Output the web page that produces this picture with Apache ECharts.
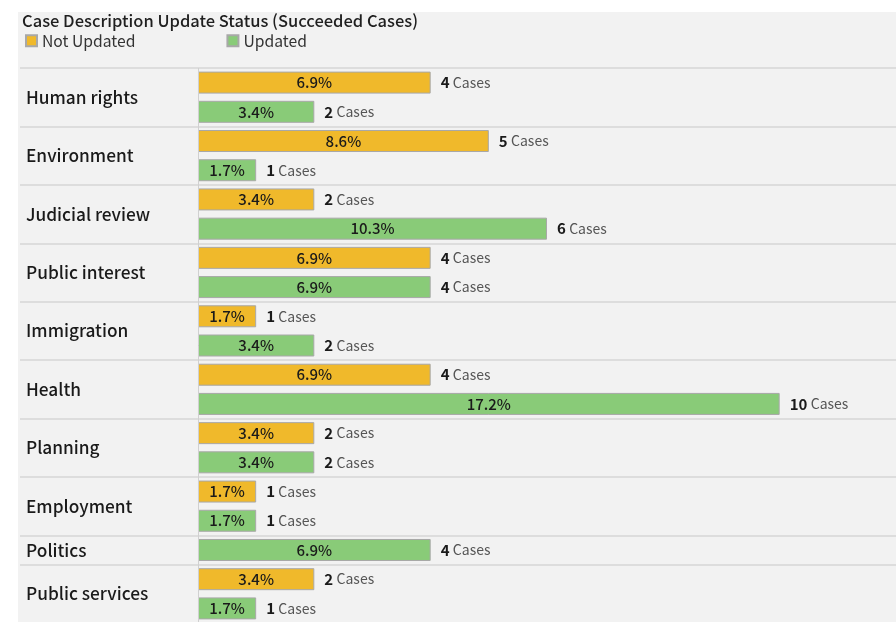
<!DOCTYPE html>
<html>
<head>
<meta charset="utf-8">
<script src="https://cdn.jsdelivr.net/npm/echarts@6/dist/echarts.min.js"></script>
<style>
  html, body { margin: 0; padding: 0; background: #ffffff; }
  #chart {
    position: absolute;
    left: 18px;
    top: 12px;
    width: 878px;
    height: 610px;
    background: #f2f2f2;
  }
</style>
</head>
<body>
<div id="chart"></div>
<script>
// categories and values (cases)
const categories = ['Human rights', 'Environment', 'Judicial review', 'Public interest', 'Immigration',
  'Health', 'Planning', 'Employment', 'Politics', 'Public services']
const notUpdated = [4, 5, 2, 4, 1, 4, 2, 1, null, 2]
const updated = [2, 1, 6, 4, 2, 10, 2, 1, 4, 1]
const notUpdatedPct = ['6.9%', '8.6%', '3.4%', '6.9%', '1.7%', '6.9%', '3.4%', '1.7%', null, '3.4%']
const updatedPct = ['3.4%', '1.7%', '10.3%', '6.9%', '3.4%', '17.2%', '3.4%', '1.7%', '6.9%', '1.7%']

const ORANGE = '#f0b92b'
const GREEN = '#89cb78'
const FONT = '"Noto Sans CJK JP", "Noto Sans", sans-serif'

// one axis slot per bar
const slots = []
const groupStarts = new Set()
categories.forEach((cat, i) => {
  groupStarts.add(slots.length)
  const size = (notUpdated[i] != null ? 1 : 0) + (updated[i] != null ? 1 : 0)
  let first = true
  if (notUpdated[i] != null) {
    slots.push({ key: cat + '|n', cat, type: 'n', value: notUpdated[i], pct: notUpdatedPct[i], first, size })
    first = false
  }
  if (updated[i] != null) {
    slots.push({ key: cat + '|u', cat, type: 'u', value: updated[i], pct: updatedPct[i], first, size })
  }
})

const pctLabel = {
  show: true,
  position: 'inside',
  fontFamily: FONT,
  fontSize: 15,
  fontWeight: 500,
  color: '#1a1a1a',
  formatter: p => slots[p.dataIndex].pct
}

const barStyle = color => ({ color, borderColor: '#a8a8a8', borderWidth: 1 })

const chart = echarts.init(document.getElementById('chart'))
chart.setOption({
  animation: false,
  title: {
    text: 'Case Description Update Status (Succeeded Cases)',
    left: 4,
    top: 0,
    padding: 0,
    textStyle: { fontFamily: FONT, fontSize: 16.5, fontWeight: 500, color: '#1f1f1f' }
  },
  legend: {
    data: ['Not Updated', 'Updated'],
    left: 7,
    top: 21,
    padding: 0,
    icon: 'rect',
    itemWidth: 11,
    itemHeight: 11,
    itemGap: 91,
    textStyle: { fontFamily: FONT, fontSize: 15.7, color: '#333' }
  },
  grid: { left: 2, right: 0, top: 56, bottom: -1, containLabel: false, outerBoundsMode: 'none' },
  xAxis: {
    type: 'value',
    min: -3.06,
    max: 12,
    show: false
  },
  yAxis: {
    type: 'category',
    inverse: true,
    data: slots.map(s => s.key),
    axisLine: { show: false },
    axisTick: { show: false },
    splitLine: {
      show: true,
      interval: i => groupStarts.has(i),
      lineStyle: { color: '#d6d6d6', width: 1.5 }
    },
    axisLabel: {
      interval: 0,
      inside: true,
      margin: 6,
      align: 'left',
      hideOverlap: false,
      formatter: (v, i) => {
        const s = slots[i]
        if (!s.first) return ''
        return s.size === 2 ? '{d|' + s.cat + '}' : '{s|' + s.cat + '}'
      },
      rich: {
        d: { fontFamily: FONT, fontSize: 17.3, fontWeight: 500, color: '#1a1a1a', padding: [29, 0, 0, 0] },
        s: { fontFamily: FONT, fontSize: 17.3, fontWeight: 500, color: '#1a1a1a' }
      }
    }
  },
  series: [
    {
      name: 'Not Updated',
      type: 'bar',
      barWidth: 22,
      barGap: '-100%',
      itemStyle: barStyle(ORANGE),
      label: pctLabel,
      data: slots.map(s => (s.type === 'n' ? s.value : null))
    },
    {
      name: 'Updated',
      type: 'bar',
      barWidth: 22,
      barGap: '-100%',
      itemStyle: barStyle(GREEN),
      label: pctLabel,
      data: slots.map(s => (s.type === 'u' ? s.value : null))
    },
    {
      // transparent copy, only for the "N Cases" labels and the zero line
      name: 'cases',
      type: 'bar',
      barWidth: 22,
      barGap: '-100%',
      silent: true,
      itemStyle: { color: 'rgba(0,0,0,0)' },
      label: {
        show: true,
        position: 'right',
        distance: 10,
        formatter: p => '{n|' + p.value + '} {c|Cases}',
        rich: {
          n: { fontFamily: FONT, fontSize: 15, fontWeight: 'bold', color: '#1a1a1a' },
          c: { fontFamily: FONT, fontSize: 14, color: '#555' }
        }
      },
      markLine: {
        silent: true,
        symbol: 'none',
        label: { show: false },
        lineStyle: { color: '#d0d0d0', type: 'solid', width: 1 },
        data: [{ xAxis: 0 }]
      },
      data: slots.map(s => s.value)
    }
  ]
})
</script>
</body>
</html>
